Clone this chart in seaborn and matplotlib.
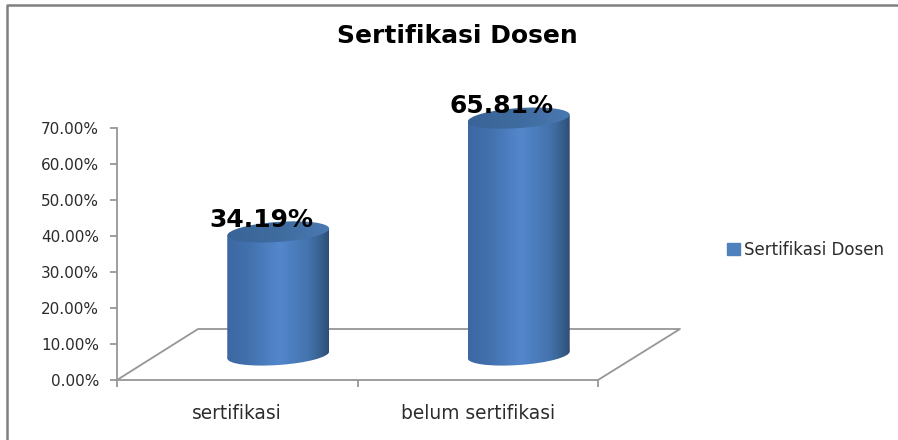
# Sertifikasi Dosen - cylinder chart

import numpy as np
import matplotlib
matplotlib.use('Agg')
import matplotlib.pyplot as plt
import seaborn as sns
from matplotlib.colors import LinearSegmentedColormap
from matplotlib.patches import Ellipse, Patch, Polygon
from matplotlib.ticker import FuncFormatter
from matplotlib.transforms import Affine2D

categories = ['sertifikasi', 'belum sertifikasi']
values = [34.19, 65.81]
value_labels = ['34.19%', '65.81%']
yticks = [0, 10, 20, 30, 40, 50, 60, 70]
series_name = 'Sertifikasi Dosen'

W, H = 898, 440
GREY = '#969696'
TEXT = '#2b2b2b'

sns.set_theme(style='white')
plt.rcParams['font.family'] = ['DejaVu Sans']

fig = plt.figure(figsize=(W / 100, H / 100), dpi=100, facecolor='white')

# pixel layer behind the chart: outer border and the floor
bg = fig.add_axes([0, 0, 1, 1], zorder=0)
bg.set_xlim(0, W)
bg.set_ylim(H, 0)
bg.axis('off')
bg.plot([7, 7, W], [H, 5, 5], color='#808080', lw=1.8)
bg.plot([117, 198, 680, 598], [380, 329, 329, 380], color=GREY, lw=1.3)

# the chart itself
ax = fig.add_axes([117 / W, (H - 380) / H, 481 / W, 252 / H], zorder=1)
ax.patch.set_alpha(0)
sns.barplot(x=categories, y=values, color='#4f81bd', width=0.424, ax=ax)
ax.set_xlim(-0.5, 1.5)
ax.set_ylim(0, 70)
ax.set_yticks(yticks)
ax.yaxis.set_major_formatter(FuncFormatter(lambda v, _: f'{v:.2f}%'))
ax.set_xticks([-0.5, 0.5, 1.5], minor=True)
ax.tick_params(axis='y', left=True, length=5, width=1.3, color=GREY, pad=8,
               labelsize=11, labelcolor=TEXT)
ax.tick_params(axis='x', which='major', bottom=False, pad=11,
               labelsize=13.4, labelcolor=TEXT)
ax.tick_params(axis='x', which='minor', bottom=True, length=5, width=1.3, color=GREY)
sns.despine(ax=ax)
for side in ['left', 'bottom']:
    ax.spines[side].set_color(GREY)
    ax.spines[side].set_linewidth(1.3)

# bars stand in the middle of the floor depth
shift = ax.transData + Affine2D().translate(41, 25)

# pixel layer on top: cylinder shading
fg = fig.add_axes([0, 0, 1, 1], zorder=2)
fg.patch.set_alpha(0)
fg.axis('off')

side_cmap = LinearSegmentedColormap.from_list('side', [
    (0, '#3c68a2'), (0.2, '#4270ad'), (0.52, '#5387cc'),
    (0.8, '#4473ad'), (0.92, '#37608f'), (1, '#2e4d76')])
top_cmap = LinearSegmentedColormap.from_list('top', ['#3a6497', '#3f6c9f', '#4a79b2'])
ramp = np.linspace(0, 1, 256).reshape(1, -1)
tilt = 3.5


def shaded(clip, cmap, left, right, top, bottom):
    fg.add_patch(clip)
    im = fg.imshow(ramp, cmap=cmap, aspect='auto', extent=[left, right, bottom, top], zorder=3)
    im.set_clip_path(clip)


for bar in ax.patches:
    bar.set_transform(shift)
    bar.set_clip_on(False)
    box = bar.get_window_extent()
    left, right = box.x0, box.x1
    y_top, y_base = H - box.y1, H - box.y0
    mid = (left + right) / 2
    width = right - left

    body = Polygon([(left, y_top + tilt), (right, y_top - tilt),
                    (right, y_base - tilt), (left, y_base + tilt)],
                   fc='none', ec='none')
    base = Ellipse((mid, y_base), width, 20, angle=-4, fc='none', ec='none')
    lid = Ellipse((mid, y_top), width, 20, angle=-4, fc='none', ec='none')
    shaded(base, side_cmap, left, right, y_base - 15, y_base + 15)
    shaded(body, side_cmap, left, right, y_top - 5, y_base + 5)
    shaded(lid, top_cmap, left, right, y_top - 15, y_top + 15)
    bar.set_visible(False)

fg.set_xlim(0, W)
fg.set_ylim(H, 0)

# data labels sit over the cylinder tops
for i, (val, lab) in enumerate(zip(values, value_labels)):
    label_tf = ax.transData + Affine2D().translate(24, 37)
    fg.text(i, val, lab, transform=label_tf, ha='center', va='center',
            fontsize=18, fontweight='bold', color='black', zorder=5)

fg.text(457.5, 36, series_name, ha='center', va='center', fontsize=18,
        fontweight='bold', color='black', zorder=5)

fg.legend(handles=[Patch(color='#4f81bd', label=series_name)], frameon=False,
          loc='center left', bbox_to_anchor=(727 / W, (H - 249.5) / H),
          bbox_transform=fig.transFigure, fontsize=12, labelcolor=TEXT,
          handlelength=0.75, handleheight=0.75, handletextpad=0.28,
          borderpad=0, borderaxespad=0)

fig.savefig('out.png', dpi=100)
